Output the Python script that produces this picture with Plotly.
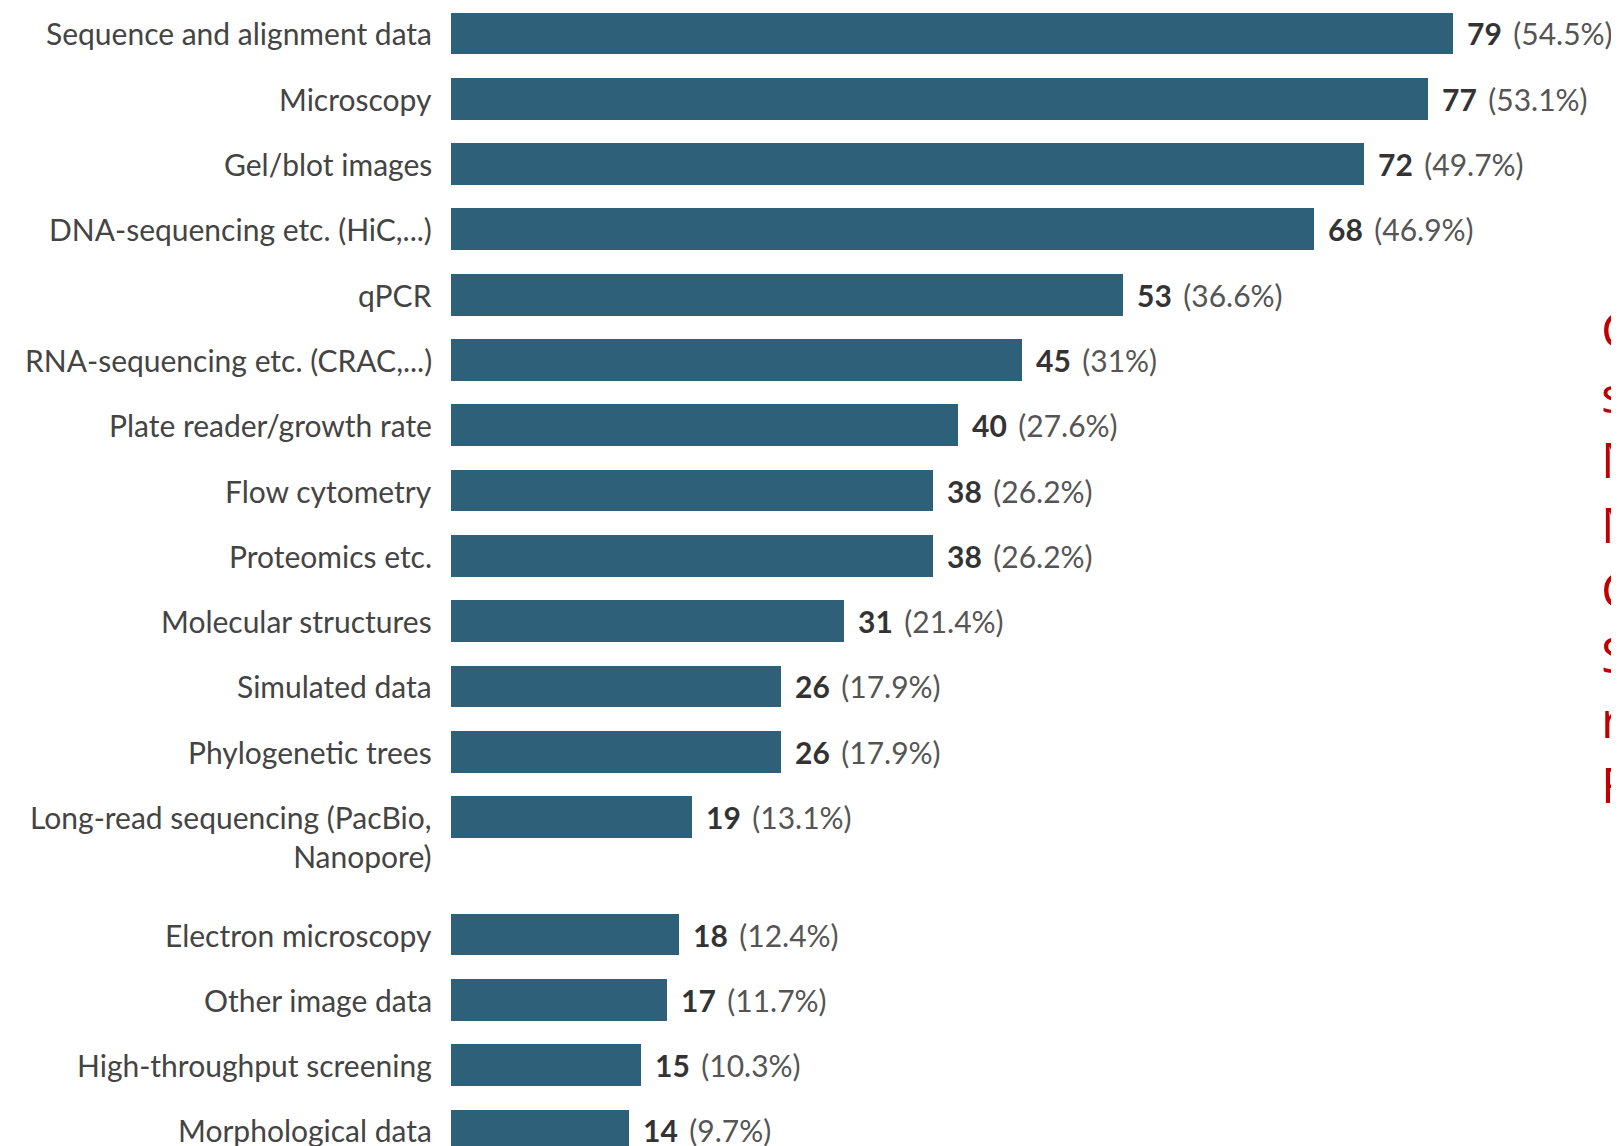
import plotly.graph_objects as go

categories = [
    "Sequence and alignment data", "Microscopy", "Gel/blot images",
    "DNA-sequencing etc. (HiC,...)", "qPCR", "RNA-sequencing etc. (CRAC,...)",
    "Plate reader/growth rate", "Flow cytometry", "Proteomics etc.",
    "Molecular structures", "Simulated data", "Phylogenetic trees",
    "Long-read sequencing (PacBio,<br>Nanopore)", "Electron microscopy",
    "Other image data", "High-throughput screening", "Morphological data",
]
counts = [79, 77, 72, 68, 53, 45, 40, 38, 38, 31, 26, 26, 19, 18, 17, 15, 14]
percents = ["54.5%", "53.1%", "49.7%", "46.9%", "36.6%", "31%", "27.6%", "26.2%",
            "26.2%", "21.4%", "17.9%", "17.9%", "13.1%", "12.4%", "11.7%", "10.3%", "9.7%"]
side_letters = ["C", "s", "M", "M", "C", "S", "r", "F"]

BAR = "#2E6079"
FONT = "Lato"

# row positions: two-line label takes extra room
pos = []
extra = 0.0
for i, c in enumerate(categories):
    pos.append(i + extra)
    if "<br>" in c:
        extra += 0.8

fig = go.Figure()
fig.add_trace(go.Bar(
    x=counts, y=pos, orientation="h", width=0.64,
    marker=dict(color=BAR, line=dict(width=0)),
    hoverinfo="skip",
))

annotations = []
for c, v, p, y in zip(categories, counts, percents, pos):
    two = "<br>" in c
    annotations.append(dict(
        x=0, y=y, xref="x", yref="y", text=c, showarrow=False,
        xanchor="right", yanchor="top" if two else "middle",
        yshift=20 if two else 0, xshift=-17, align="right",
        font=dict(family=FONT, size=30, color="#444444"),
    ))
    annotations.append(dict(
        x=v, y=y, xref="x", yref="y",
        text=f"<b>{v}</b> \u2009<span style='color:#555555'>({p})</span>",
        showarrow=False,
        xanchor="left", yanchor="middle", xshift=12,
        font=dict(family=FONT, size=30, color="#333333"),
    ))

annotations.append(dict(
    x=1.0, y=0.751, xref="paper", yref="paper", xanchor="right", yanchor="top",
    xshift=21,
    text="<br>".join(side_letters), showarrow=False, align="left",
    font=dict(family="Open Sans", size=50, color="#C00000"),
))

fig.update_layout(
    width=1619, height=1146,
    margin=dict(l=443, r=0, t=0, b=0),
    paper_bgcolor="white", plot_bgcolor="white",
    showlegend=False,
    xaxis=dict(range=[0, 92.7], visible=False),
    yaxis=dict(range=[17.16, -0.39], visible=False),
    annotations=annotations,
    bargap=0,
)

fig.write_html("out.html")
